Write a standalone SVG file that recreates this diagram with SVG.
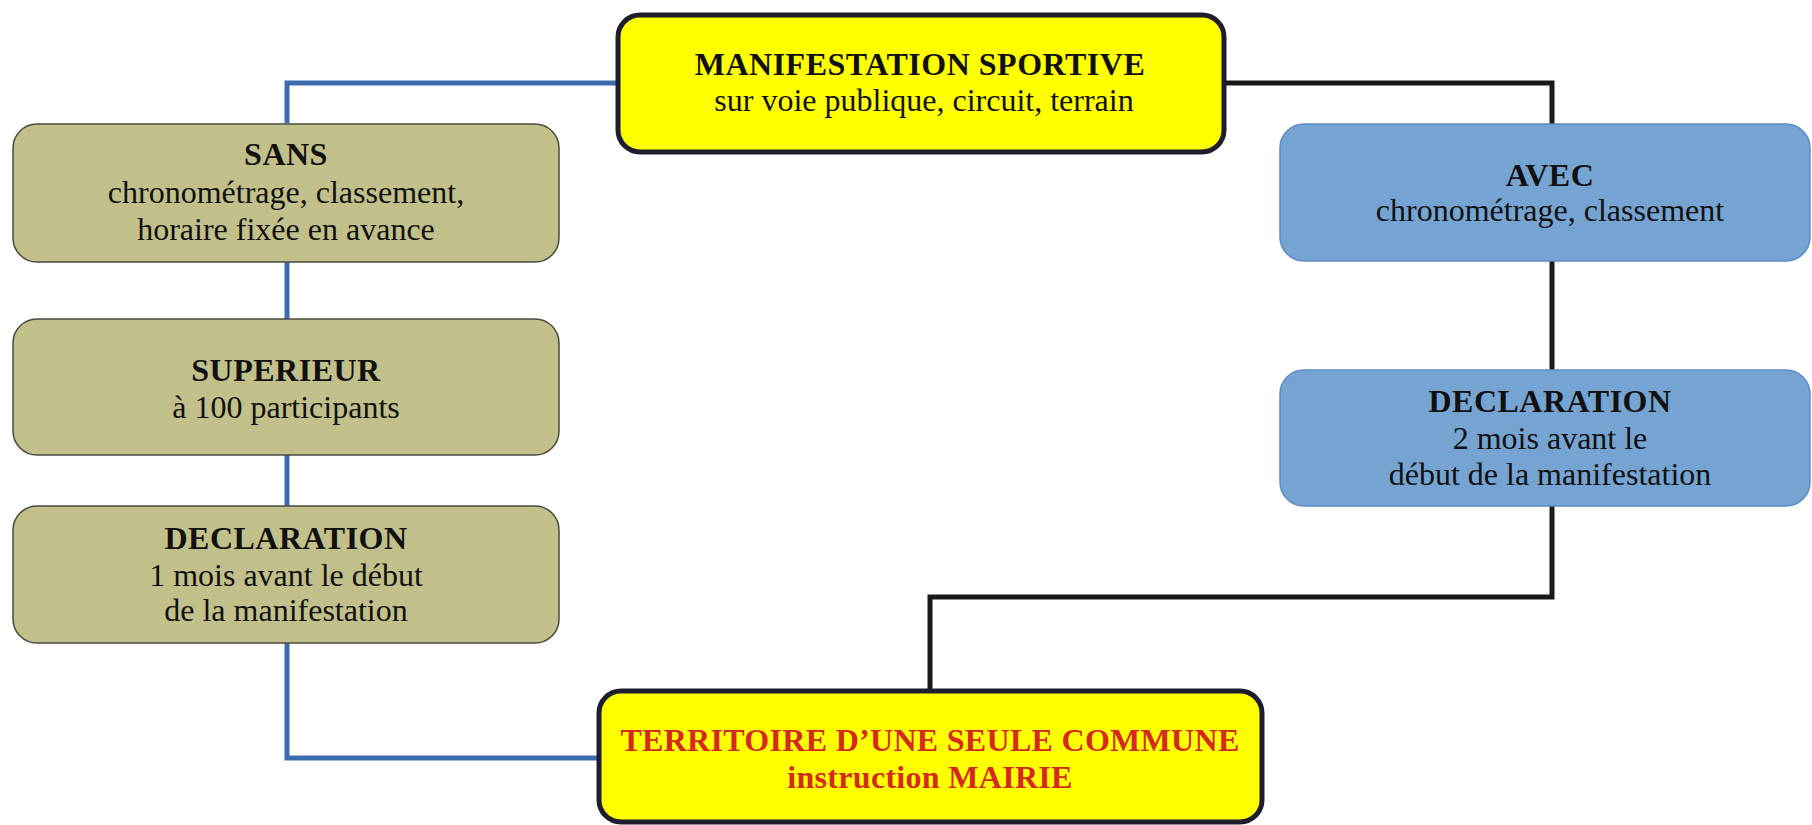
<svg xmlns="http://www.w3.org/2000/svg" width="1812" height="825" viewBox="0 0 1812 825">
<style>
text{font-family:"Liberation Serif","Times New Roman",serif;font-size:32px;text-anchor:middle;fill:#111}
.b{font-weight:bold;letter-spacing:0.5px}
.red{fill:#d42a1e;font-weight:bold;letter-spacing:0.3px}
.main{fill:#ffff00;stroke:#1e1e2e;stroke-width:5}
.olive{fill:#c2c08a;stroke:#4a4a40;stroke-width:1.5}
.blue{fill:#76a4d2;stroke:#5c8cc4;stroke-width:1.5}
.cb{fill:none;stroke:#3c6cb0;stroke-width:5}
.ck{fill:none;stroke:#1a1a1a;stroke-width:5}
</style>
<rect width="1812" height="825" fill="#fff"/>
<g id="connectors">
<polyline class="cb" points="616,83 287,83 287,123"/>
<line class="cb" x1="287" y1="262" x2="287" y2="319"/>
<line class="cb" x1="287" y1="455" x2="287" y2="506"/>
<polyline class="cb" points="287,643 287,758 598,758"/>
<polyline class="ck" points="1224,83 1552,83 1552,124"/>
<line class="ck" x1="1552" y1="261" x2="1552" y2="370"/>
<polyline class="ck" points="1552,506 1552,597 930,597 930,690"/>
</g>
<g id="n-manif">
<rect class="main" x="618" y="15" width="606" height="137" rx="22"/>
<text class="b" x="920" y="75">MANIFESTATION SPORTIVE</text>
<text x="924" y="111">sur voie publique, circuit, terrain</text>
</g>
<g id="n-sans">
<rect class="olive" x="13" y="124" width="546" height="138" rx="24"/>
<text class="b" x="286" y="165">SANS</text>
<text x="286" y="203">chronométrage, classement,</text>
<text x="286" y="240">horaire fixée en avance</text>
</g>
<g id="n-sup">
<rect class="olive" x="13" y="319" width="546" height="136" rx="24"/>
<text class="b" x="286" y="381">SUPERIEUR</text>
<text x="286" y="418">à 100 participants</text>
</g>
<g id="n-decl1">
<rect class="olive" x="13" y="506" width="546" height="137" rx="24"/>
<text class="b" x="286" y="549">DECLARATION</text>
<text x="286" y="586">1 mois avant le début</text>
<text x="286" y="621">de la manifestation</text>
</g>
<g id="n-avec">
<rect class="blue" x="1280" y="124" width="530" height="137" rx="24"/>
<text class="b" x="1550" y="186">AVEC</text>
<text x="1550" y="221">chronométrage, classement</text>
</g>
<g id="n-decl2">
<rect class="blue" x="1280" y="370" width="530" height="136" rx="24"/>
<text class="b" x="1550" y="412">DECLARATION</text>
<text x="1550" y="449">2 mois avant le</text>
<text x="1550" y="485">début de la manifestation</text>
</g>
<g id="n-terr">
<rect class="main" x="599" y="691" width="663" height="131" rx="22"/>
<text class="red" x="930" y="751">TERRITOIRE D’UNE SEULE COMMUNE</text>
<text class="red" x="930" y="788">instruction MAIRIE</text>
</g>
</svg>
